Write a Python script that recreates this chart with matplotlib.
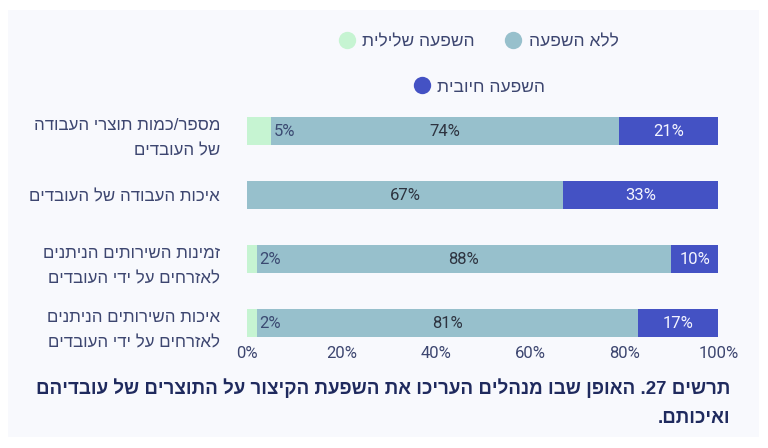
import re
import matplotlib
matplotlib.use("Agg")
import matplotlib.pyplot as plt
from matplotlib.patches import Rectangle
from matplotlib.lines import Line2D

# ---------------- data ----------------
categories = [
    "מספר/כמות תוצרי העבודה\nשל העובדים",
    "איכות העבודה של העובדים",
    "זמינות השירותים הניתנים\nלאזרחים על ידי העובדים",
    "איכות השירותים הניתנים\nלאזרחים על ידי העובדים",
]
negative = [5, 0, 2, 2]
no_effect = [74, 67, 88, 81]
positive = [21, 33, 10, 17]
series_names = ["השפעה שלילית", "ללא השפעה", "השפעה חיובית"]
x_ticks = [0, 20, 40, 60, 80, 100]
x_tick_labels = ["0%", "20%", "40%", "60%", "80%", "100%"]
caption = ["תרשים 27. האופן שבו מנהלים העריכו את השפעת הקיצור על התוצרים של עובדיהם",
           "ואיכותם."]

# ---------------- helpers ----------------
def vis(s):
    """Visual (display) order for right-to-left Hebrew text, line by line."""
    out = []
    for line in s.split("\n"):
        r = line[::-1]
        r = re.sub(r"[0-9]+", lambda m: m.group(0)[::-1], r)
        out.append(r)
    return "\n".join(out)

HEB = ["Liberation Sans", "DejaVu Sans"]
NUM = ["Roboto", "DejaVu Sans"]
C_NEG = "#c6f4d2"
C_MID = "#97c0cc"
C_POS = "#4452c4"
TXT = "#3d4670"

W, H = 768, 448
fig = plt.figure(figsize=(W / 100, H / 100), dpi=100, facecolor="white")
fig.patches.append(Rectangle((8 / W, 1 - 437 / H), (759 - 8) / W, (437 - 10) / H,
                             transform=fig.transFigure, facecolor="#f8f9fd",
                             edgecolor="none", zorder=-5))

ax = fig.add_axes([247.3 / W, 1 - 341 / H, 471 / W, 242 / H])
ax.set_zorder(2)
ax.patch.set_alpha(0)
y = list(range(len(categories)))
bh = 0.4375
b1 = ax.barh(y, negative, height=bh, color=C_NEG)
b2 = ax.barh(y, no_effect, left=negative, height=bh, color=C_MID)
lefts = [a + b for a, b in zip(negative, no_effect)]
b3 = ax.barh(y, positive, left=lefts, height=bh, color=C_POS)

ax.set_xlim(0, 100)
ax.set_ylim(3 + 18 / 64, -0.5)
for s in ax.spines.values():
    s.set_visible(False)

ax.bar_label(b1, labels=[f"{v}%" if v else "" for v in negative], label_type="edge",
             padding=2, color="#3b4a72", fontsize=12, family=NUM)
ax.bar_label(b2, labels=[f"{v}%" for v in no_effect], label_type="center",
             color="#2e3440", fontsize=12, family=NUM)
ax.bar_label(b3, labels=[f"{v}%" for v in positive], label_type="center",
             color="#f4f5ff", fontsize=12, family=NUM)

ax.set_xticks(x_ticks)
ax.set_xticklabels(x_tick_labels, family=NUM, fontsize=12, color=TXT)
ax.set_yticks(y)
ax.set_yticklabels([vis(c) for c in categories], family=HEB, fontsize=12.2,
                   color=TXT, linespacing=1.9)
ax.tick_params(axis="x", length=0, pad=3.5)
ax.tick_params(axis="y", length=0, pad=19.5)

# legend
def h(c):
    return Line2D([], [], linestyle="none", marker="o", markersize=12.5,
                  markerfacecolor=c, markeredgecolor="none")

leg_kw = dict(frameon=False, handlelength=0.8, handletextpad=0.5,
              columnspacing=1.8, borderpad=0, borderaxespad=0,
              prop={"family": HEB, "size": 12.5}, labelcolor=TXT)
l1 = fig.legend([h(C_NEG), h(C_MID)], [vis(series_names[0]), vis(series_names[1])],
                ncol=2, loc="center", bbox_to_anchor=(479 / W, 1 - 42 / H), **leg_kw)
l2 = fig.legend([h(C_POS)], [vis(series_names[2])], ncol=1, loc="center",
                bbox_to_anchor=(480 / W, 1 - 87 / H), **leg_kw)

# caption
for i, line in enumerate(caption):
    fig.text(730 / W, 1 - (388 + 30 * i) / H, vis(line), ha="right", va="center",
             family=["Liberation Sans Narrow", "Liberation Sans", "DejaVu Sans"],
             fontweight="bold", fontsize=13.5, color="#1f2a5e")

fig.savefig("out.png", dpi=100, facecolor="white")
